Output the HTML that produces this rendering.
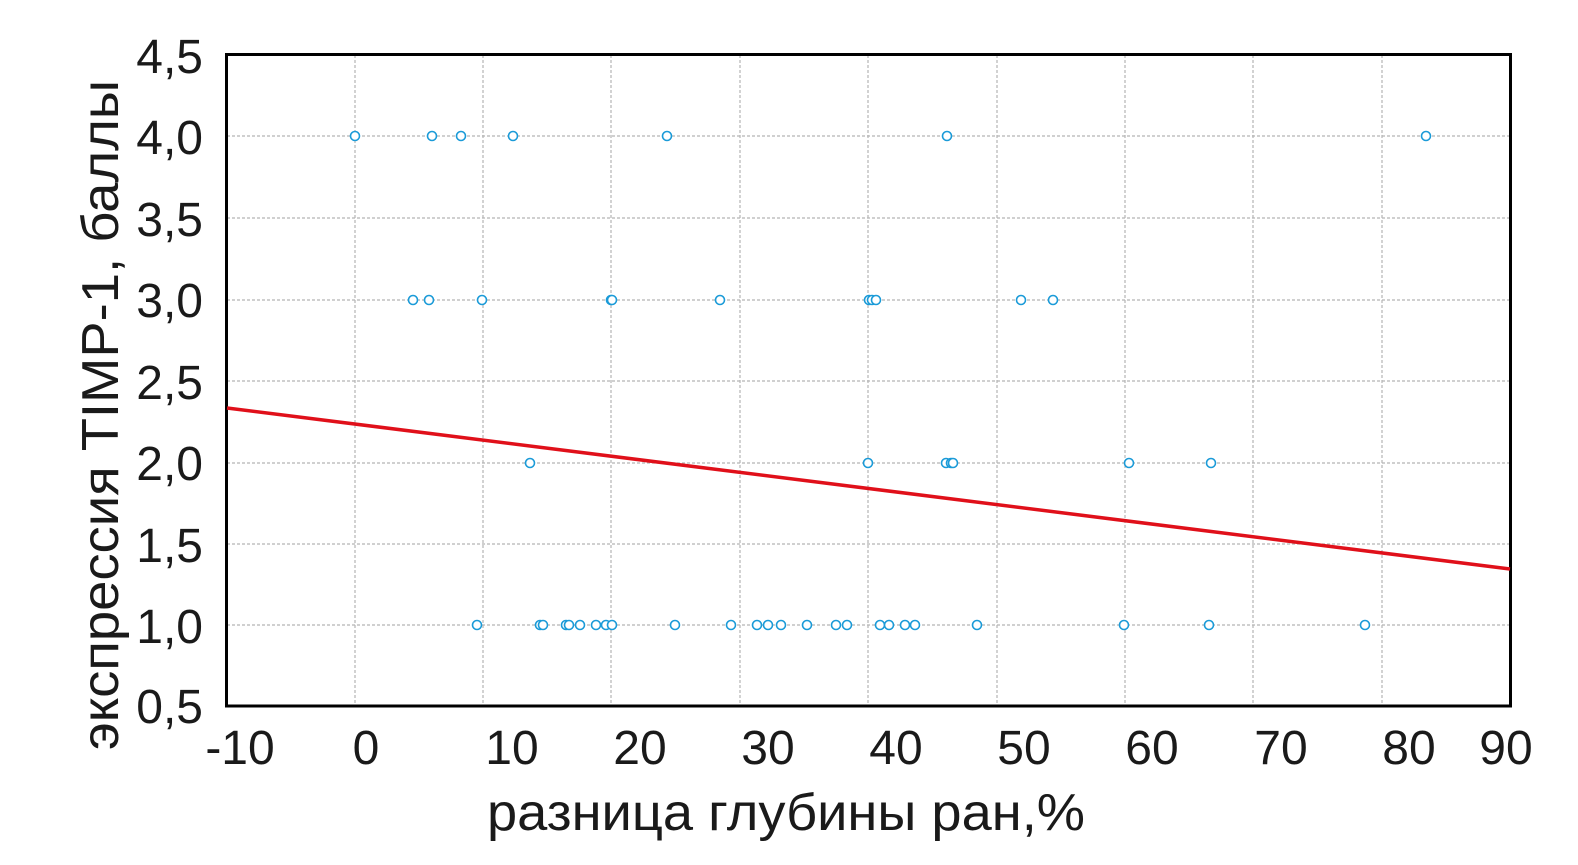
<!DOCTYPE html>
<html><head><meta charset="utf-8"><style>
html,body{margin:0;padding:0;background:#fff;overflow:hidden}
svg{display:block}
svg text{font-family:"Liberation Sans",sans-serif;fill:#1a1a1a}
</style></head><body>
<svg width="1578" height="865" xmlns="http://www.w3.org/2000/svg">
<g stroke="#b5b5b5" stroke-width="1.2" stroke-dasharray="3,2">
<line x1="355" y1="55" x2="355" y2="706"/><line x1="483" y1="55" x2="483" y2="706"/>
<line x1="611" y1="55" x2="611" y2="706"/><line x1="740" y1="55" x2="740" y2="706"/>
<line x1="868" y1="55" x2="868" y2="706"/><line x1="997" y1="55" x2="997" y2="706"/>
<line x1="1125" y1="55" x2="1125" y2="706"/><line x1="1253" y1="55" x2="1253" y2="706"/>
<line x1="1382" y1="55" x2="1382" y2="706"/>
<line x1="227" y1="136" x2="1510" y2="136"/><line x1="227" y1="218" x2="1510" y2="218"/>
<line x1="227" y1="300" x2="1510" y2="300"/><line x1="227" y1="381" x2="1510" y2="381"/>
<line x1="227" y1="463" x2="1510" y2="463"/><line x1="227" y1="544" x2="1510" y2="544"/>
<line x1="227" y1="625" x2="1510" y2="625"/>
</g>
<rect x="226.5" y="54.5" width="1284" height="651.5" fill="none" stroke="#000" stroke-width="3"/>
<line x1="227" y1="408" x2="1510" y2="569" stroke="#e0101a" stroke-width="3.5"/>
<g fill="#fff" stroke="#1b9bd8" stroke-width="1.6">
<circle cx="355" cy="136" r="4.5"/><circle cx="432" cy="136" r="4.5"/><circle cx="461" cy="136" r="4.5"/><circle cx="513" cy="136" r="4.5"/><circle cx="667" cy="136" r="4.5"/><circle cx="947" cy="136" r="4.5"/><circle cx="1426" cy="136" r="4.5"/>
<circle cx="413" cy="300" r="4.5"/><circle cx="429" cy="300" r="4.5"/><circle cx="482" cy="300" r="4.5"/><circle cx="611" cy="300" r="4.5"/><circle cx="612" cy="300" r="4.5"/><circle cx="720" cy="300" r="4.5"/><circle cx="869" cy="300" r="4.5"/><circle cx="872" cy="300" r="4.5"/><circle cx="876" cy="300" r="4.5"/><circle cx="1021" cy="300" r="4.5"/><circle cx="1053" cy="300" r="4.5"/>
<circle cx="530" cy="463" r="4.5"/><circle cx="868" cy="463" r="4.5"/><circle cx="946" cy="463" r="4.5"/><circle cx="951" cy="463" r="4.5"/><circle cx="953" cy="463" r="4.5"/><circle cx="1129" cy="463" r="4.5"/><circle cx="1211" cy="463" r="4.5"/>
<circle cx="477" cy="625" r="4.5"/><circle cx="540" cy="625" r="4.5"/><circle cx="543" cy="625" r="4.5"/><circle cx="566" cy="625" r="4.5"/><circle cx="569" cy="625" r="4.5"/><circle cx="580" cy="625" r="4.5"/><circle cx="596" cy="625" r="4.5"/><circle cx="606" cy="625" r="4.5"/><circle cx="612" cy="625" r="4.5"/><circle cx="675" cy="625" r="4.5"/><circle cx="731" cy="625" r="4.5"/><circle cx="757" cy="625" r="4.5"/><circle cx="768" cy="625" r="4.5"/><circle cx="781" cy="625" r="4.5"/><circle cx="807" cy="625" r="4.5"/><circle cx="836" cy="625" r="4.5"/><circle cx="847" cy="625" r="4.5"/><circle cx="880" cy="625" r="4.5"/><circle cx="889" cy="625" r="4.5"/><circle cx="905" cy="625" r="4.5"/><circle cx="915" cy="625" r="4.5"/><circle cx="977" cy="625" r="4.5"/><circle cx="1124" cy="625" r="4.5"/><circle cx="1209" cy="625" r="4.5"/><circle cx="1365" cy="625" r="4.5"/>
</g>
<g font-size="48" text-anchor="end">
<text x="203" y="73">4,5</text><text x="203" y="154">4,0</text><text x="203" y="236">3,5</text><text x="203" y="317">3,0</text><text x="203" y="399">2,5</text><text x="203" y="480">2,0</text><text x="203" y="562">1,5</text><text x="203" y="643">1,0</text><text x="203" y="723">0,5</text>
</g>
<g font-size="48" text-anchor="middle">
<text x="240" y="764">-10</text><text x="366" y="764">0</text><text x="512" y="764">10</text><text x="640" y="764">20</text><text x="768" y="764">30</text><text x="896" y="764">40</text><text x="1024" y="764">50</text><text x="1152" y="764">60</text><text x="1281" y="764">70</text><text x="1409" y="764">80</text><text x="1506" y="764">90</text>
</g>
<text x="487" y="830" font-size="52" textLength="598" lengthAdjust="spacingAndGlyphs">разница глубины ран,%</text>
<text transform="translate(118,750) rotate(-90)" font-size="52" textLength="670" lengthAdjust="spacingAndGlyphs">экспрессия TIMP-1, баллы</text>
</svg>
</body></html>
